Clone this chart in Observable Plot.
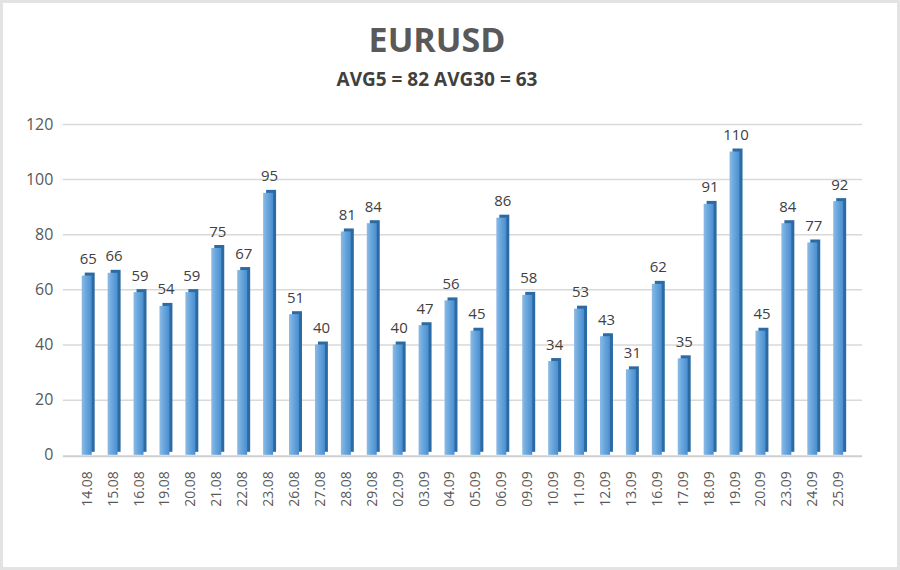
<!DOCTYPE html>
<html>
<head>
<meta charset="utf-8">
<script src="https://cdn.jsdelivr.net/npm/d3@7"></script>
<script src="https://cdn.jsdelivr.net/npm/@observablehq/plot@0.6"></script>
<style>
  html, body { margin: 0; padding: 0; background: #fff; }
  #frame { position: relative; width: 900px; height: 570px; box-sizing: border-box; border: 3px solid #e3e3e3; background: #fff; font-family: "Open Sans", sans-serif; overflow: hidden; }
  #title { position: absolute; left: 0; width: 868px; top: 14px; text-align: center; font-size: 34px; font-weight: 700; color: #595959; line-height: 44px; }
  #subtitle { position: absolute; left: 0; width: 868px; top: 63px; text-align: center; font-size: 19px; font-weight: 700; color: #404040; line-height: 26px; }
  #chart { position: absolute; left: -3px; top: 97px; }
</style>
</head>
<body>
<div id="frame">
  <div id="title">EURUSD</div>
  <div id="subtitle">AVG5 = 82 AVG30 = 63</div>
  <div id="chart"></div>
</div>
<script>
const dates = ["14.08","15.08","16.08","19.08","20.08","21.08","22.08","23.08","26.08","27.08","28.08","29.08","02.09","03.09","04.09","05.09","06.09","09.09","10.09","11.09","12.09","13.09","16.09","17.09","18.09","19.09","20.09","23.09","24.09","25.09"];
const values = [65,66,59,54,59,75,67,95,51,40,81,84,40,47,56,45,86,58,34,53,43,31,62,35,91,110,45,84,77,92];
const yTicks = [0,20,40,60,80,100,120];

const data = dates.map((d, i) => ({date: d, value: values[i]}));

const plot = Plot.plot({
  width: 900,
  height: 440,
  marginTop: 24,
  marginBottom: 84,
  marginLeft: 63,
  marginRight: 35,
  style: {fontFamily: "Open Sans, sans-serif", fontSize: "14px", color: "#595959", background: "transparent"},
  x: {domain: dates, padding: 0.62, label: null},
  y: {domain: [0, 120], label: null},
  marks: [
    Plot.ruleY(yTicks.filter(t => t > 0), {stroke: "#d9d9d9", strokeWidth: 1.5}),
    Plot.ruleY([0], {stroke: "#cfcfcf", strokeWidth: 2, dy: 1}),
    Plot.axisY(yTicks, {tickSize: 0, tickPadding: 10, fontSize: 15, fill: "#595959", label: null}),
    Plot.axisX({tickSize: 0, tickPadding: 16, tickRotate: -90, fontSize: 14, fill: "#595959", label: null}),
    Plot.barY(data, {x: "date", y: "value", fill: "#2c6aa3", dx: 3, dy: -3}),
    Plot.barY(data, {x: "date", y: "value", fill: "url(#barGrad)"}),
    Plot.text(data, {x: "date", y: "value", text: d => String(d.value), dy: -12, dx: 1, lineAnchor: "bottom", fill: "#404040", fontSize: 15})
  ]
});

const svg = d3.select(plot);
const defs = svg.insert("defs", ":first-child");
const g = defs.append("linearGradient").attr("id", "barGrad").attr("x1", "0").attr("x2", "1").attr("y1", "0").attr("y2", "0");
g.append("stop").attr("offset", "0%").attr("stop-color", "#8bbbe6");
g.append("stop").attr("offset", "45%").attr("stop-color", "#69a6dc");
g.append("stop").attr("offset", "100%").attr("stop-color", "#4a8ed0");

svg.selectAll("g[aria-label='y-axis tick label']").attr("font-size", 16).selectAll("text").attr("font-size", 16);
svg.selectAll("g[aria-label='x-axis tick label']").attr("font-size", 14).selectAll("text").attr("font-size", 14);

document.getElementById("chart").appendChild(plot);
</script>
</body>
</html>
